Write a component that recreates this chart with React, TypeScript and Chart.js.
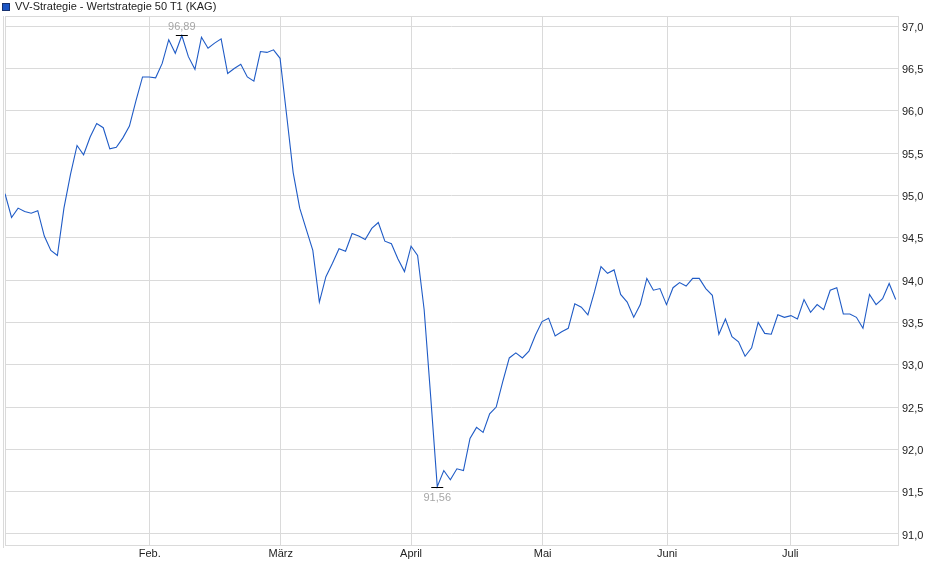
import { useEffect, useRef } from 'react'
import { Chart, registerables } from 'chart.js'

Chart.register(...registerables)

const seriesName = 'VV-Strategie - Wertstrategie 50 T1 (KAG)'

// one value per trading day, Jan -> end of July
const dayValues = [
  95.02, 94.74, 94.85, 94.81, 94.79, 94.82, 94.52, 94.35, 94.29, 94.85,
  95.25, 95.59, 95.48, 95.69, 95.85, 95.80, 95.55, 95.57, 95.68, 95.82,
  96.12, 96.40, 96.40, 96.39, 96.56, 96.84, 96.68, 96.89, 96.64, 96.49,
  96.87, 96.74, 96.80, 96.85, 96.44, 96.50, 96.55, 96.40, 96.35, 96.70,
  96.69, 96.72, 96.62, 95.95, 95.27, 94.85, 94.60, 94.35, 93.74, 94.04,
  94.20, 94.37, 94.34, 94.55, 94.52, 94.48, 94.61, 94.68, 94.46, 94.43,
  94.25, 94.10, 94.40, 94.29, 93.65, 92.62, 91.56, 91.75, 91.64, 91.77,
  91.75, 92.13, 92.26, 92.20, 92.42, 92.50, 92.80, 93.08, 93.14, 93.08,
  93.16, 93.35, 93.51, 93.55, 93.34, 93.39, 93.43, 93.72, 93.68, 93.59,
  93.86, 94.16, 94.08, 94.12, 93.83, 93.74, 93.56, 93.71, 94.02, 93.88,
  93.90, 93.71, 93.91, 93.97, 93.93, 94.02, 94.02, 93.90, 93.82, 93.36,
  93.54, 93.33, 93.27, 93.10, 93.20, 93.50, 93.37, 93.36, 93.59, 93.56,
  93.58, 93.54, 93.77, 93.62, 93.71, 93.65, 93.88, 93.91, 93.60, 93.60,
  93.56, 93.43, 93.83, 93.71, 93.78, 93.96, 93.77,
]

const monthLabels = ['Feb.', 'März', 'April', 'Mai', 'Juni', 'Juli']
const monthStartIndex = [22.1, 42.1, 62, 82.1, 101.1, 119.9]

const yTickValues = [91, 91.5, 92, 92.5, 93, 93.5, 94, 94.5, 95, 95.5, 96, 96.5, 97]

const FONT = '"Liberation Sans", Arial, sans-serif'
const GRID = '#dadada'
const LINE = '#1f5bc6'

const fmt = (v: number) => v.toFixed(2).replace('.', ',')

// frame around the plot + high/low markers
const extrasPlugin = {
  id: 'extras',
  beforeDatasetsDraw(chart: Chart) {
    const { ctx, chartArea: a } = chart
    ctx.save()
    ctx.strokeStyle = GRID
    ctx.lineWidth = 1
    ctx.strokeRect(Math.round(a.left) + 0.5, Math.round(a.top) + 0.5, Math.round(a.right - a.left), Math.round(a.bottom - a.top))
    ctx.beginPath()
    ctx.moveTo(Math.round(a.left) - 2 + 0.5, a.top)
    ctx.lineTo(Math.round(a.left) - 2 + 0.5, a.bottom + 3)
    ctx.stroke()
    ctx.restore()
  },
  afterDatasetsDraw(chart: Chart) {
    const { ctx } = chart
    const xs = chart.scales.x
    const ys = chart.scales.y
    let hi = 0
    let lo = 0
    dayValues.forEach((v, i) => {
      if (v > dayValues[hi]) hi = i
      if (v < dayValues[lo]) lo = i
    })
    ctx.save()
    ctx.font = `11px ${FONT}`
    ctx.textAlign = 'center'
    ctx.textBaseline = 'middle'
    const mark = (i: number, above: boolean) => {
      const x = xs.getPixelForValue(i)
      const y = Math.round(ys.getPixelForValue(dayValues[i])) + 0.5
      ctx.strokeStyle = '#000'
      ctx.lineWidth = 1
      ctx.beginPath()
      ctx.moveTo(x - 6, y)
      ctx.lineTo(x + 6, y)
      ctx.stroke()
      ctx.fillStyle = '#a6a6a6'
      ctx.fillText(fmt(dayValues[i]), x, above ? y - 9 : y + 10)
    }
    mark(hi, true)
    mark(lo, false)
    ctx.restore()
  },
}

export default function App() {
  const canvasRef = useRef<HTMLCanvasElement>(null)

  useEffect(() => {
    document.body.style.margin = '0'
    if (!canvasRef.current) return

    const chart = new Chart(canvasRef.current, {
      type: 'line',
      data: {
        datasets: [{
          label: seriesName,
          data: dayValues.map((v, i) => ({ x: i, y: v })),
          borderColor: LINE,
          borderWidth: 1.1,
          pointRadius: 0,
          tension: 0,
          fill: false,
        }],
      },
      options: {
        animation: false,
        responsive: false,
        events: [],
        layout: { padding: { top: 16, left: 5, right: 0, bottom: 0 } },
        plugins: {
          legend: { display: false },
          tooltip: { enabled: false },
        },
        scales: {
          x: {
            type: 'linear',
            min: 0,
            max: dayValues.length - 1 + 0.35,
            afterBuildTicks: (s) => { s.ticks = monthStartIndex.map(v => ({ value: v })) },
            afterFit: (s) => { s.height = 34 },
            border: { display: false },
            grid: { color: GRID, drawTicks: false },
            ticks: {
              padding: 2,
              autoSkip: false,
              maxRotation: 0,
              color: '#222',
              font: { family: FONT, size: 11 },
              callback: (v) => monthLabels[monthStartIndex.indexOf(Number(v))] ?? '',
            },
          },
          y: {
            position: 'right',
            min: 90.87,
            max: 97.12,
            afterBuildTicks: (s) => { s.ticks = yTickValues.map(v => ({ value: v })) },
            afterFit: (s) => { s.width = 42 },
            border: { display: false },
            grid: { color: GRID, drawTicks: false },
            ticks: {
              padding: 4,
              labelOffset: 1.5,
              color: '#222',
              font: { family: FONT, size: 11 },
              callback: (v) => Number(v).toFixed(1).replace('.', ','),
            },
          },
        },
      },
      plugins: [extrasPlugin],
    })

    return () => chart.destroy()
  }, [])

  return (
    <div style={{ position: 'relative', width: 940, height: 579, background: '#fff' }}>
      <div style={{
        position: 'absolute', left: 2, top: 0, display: 'flex', alignItems: 'center',
        fontFamily: FONT, fontSize: 11, color: '#222', lineHeight: '13px',
      }}>
        <span style={{
          display: 'inline-block', width: 6, height: 6, background: '#1c55c4',
          border: '1px solid #17316e', marginRight: 5,
        }} />
        {seriesName}
      </div>
      <canvas ref={canvasRef} width={940} height={579} style={{ display: 'block' }} />
    </div>
  )
}
